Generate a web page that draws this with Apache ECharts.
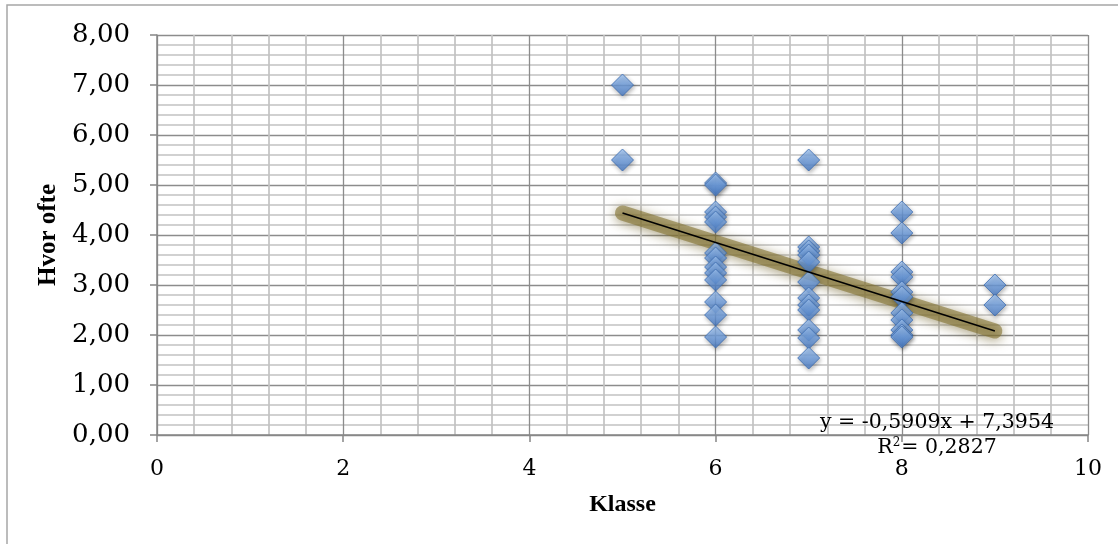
<!DOCTYPE html>
<html>
<head>
<meta charset="utf-8">
<script src="https://cdn.jsdelivr.net/npm/echarts@6/dist/echarts.min.js"></script>
<style>
html,body{margin:0;padding:0;background:#fff;}
#chart{width:1118px;height:544px;}
</style>
</head>
<body>
<div id="chart"></div>
<script>
// Data
const klasse5 = [7.00, 5.50];
const klasse6 = [5.04, 5.00, 4.46, 4.36, 4.26, 3.64, 3.54, 3.36, 3.24, 3.10, 2.66, 2.40, 1.96];
const klasse7 = [5.50, 3.76, 3.68, 3.60, 3.46, 3.06, 2.74, 2.60, 2.50, 2.10, 1.94, 1.54];
const klasse8 = [4.46, 4.04, 3.26, 3.16, 2.86, 2.76, 2.44, 2.30, 2.10, 2.00, 1.96];
const klasse9 = [3.00, 2.60];
const trendX = [5, 9];
const trendY = [4.44, 2.08];
const xTicks = [0, 2, 4, 6, 8, 10];
const yTicks = [0, 1, 2, 3, 4, 5, 6, 7, 8];
const equationText = 'y = -0,5909x + 7,3954';
const r2Value = '0,2827';
const xTitle = 'Klasse';
const yTitle = 'Hvor ofte';

const groups = [[5, klasse5], [6, klasse6], [7, klasse7], [8, klasse8], [9, klasse9]];
const points = [];
groups.forEach(([k, vals]) => vals.forEach(v => points.push([k, v])));
const trendData = trendX.map((x, i) => [x, trendY[i]]);

const chart = echarts.init(document.getElementById('chart'));
const serifNum = '"DejaVu Serif", serif';
const serifTitle = '"Liberation Serif", "DejaVu Serif", serif';

chart.setOption({
  animation: false,
  backgroundColor: '#ffffff',
  grid: { left: 157, right: 30, top: 35, bottom: 109, containLabel: false },
  xAxis: {
    type: 'value',
    min: xTicks[0], max: xTicks[xTicks.length - 1], interval: 2,
    name: xTitle, nameLocation: 'middle', nameGap: 58,
    nameTextStyle: { fontFamily: serifTitle, fontWeight: 'bold', fontSize: 24, color: '#000' },
    axisLine: { show: true, onZero: false, lineStyle: { color: '#868686', width: 1.5 } },
    axisTick: { show: true, length: 7, lineStyle: { color: '#868686', width: 1.5 } },
    axisLabel: { margin: 23, fontFamily: serifNum, fontSize: 22, color: '#000' },
    splitLine: { show: true, lineStyle: { color: '#8c8c8c', width: 1.3 } },
    minorTick: { show: false, splitNumber: 5 },
    minorSplitLine: { show: true, lineStyle: { color: '#c2c2c2', width: 1.7 } }
  },
  yAxis: {
    type: 'value',
    min: yTicks[0], max: yTicks[yTicks.length - 1], interval: 1,
    name: yTitle, nameLocation: 'middle', nameGap: 95, nameRotate: 90,
    nameTextStyle: { fontFamily: serifTitle, fontWeight: 'bold', fontSize: 25, color: '#000' },
    axisLine: { show: true, lineStyle: { color: '#868686', width: 1.5 } },
    axisTick: { show: true, length: 7, lineStyle: { color: '#868686', width: 1.5 } },
    axisLabel: { margin: 27, fontFamily: serifNum, fontSize: 26, color: '#000',
      formatter: v => v.toFixed(2).replace('.', ',') },
    splitLine: { show: true, lineStyle: { color: '#8c8c8c', width: 1.3 } },
    minorTick: { show: false, splitNumber: 5 },
    minorSplitLine: { show: true, lineStyle: { color: '#c2c2c2', width: 1.7 } }
  },
  graphic: [
    { type: 'rect', shape: { x: 7, y: 5, width: 1300, height: 700 },
      style: { fill: 'none', stroke: '#a6a6a6', lineWidth: 1.5 }, silent: true, z: 100 },
    { type: 'text', x: 937, y: 412, z: 100,
      style: { text: equationText, font: '20.5px "DejaVu Serif", serif', fill: '#000', textAlign: 'center' } },
    { type: 'text', x: 937, y: 437, z: 100,
      style: { text: '{r|R}{s|2}{r|= ' + r2Value + '}', fill: '#000', textAlign: 'center',
        rich: { r: { fontFamily: serifNum, fontSize: 20.5, fill: '#000' },
                s: { fontFamily: serifNum, fontSize: 12, fill: '#000', verticalAlign: 'top', padding: [0, 1, 10, 0] } } } }
  ],
  series: [
    {
      type: 'scatter',
      data: points,
      symbol: 'diamond',
      symbolSize: 22,
      z: 3,
      itemStyle: {
        color: new echarts.graphic.LinearGradient(0, 0, 0, 1, [
          { offset: 0, color: '#a4c8f5' },
          { offset: 0.5, color: '#6f9fe0' },
          { offset: 1, color: '#4478c4' }
        ]),
        borderColor: '#3b6cb0',
        borderWidth: 1,
        shadowBlur: 4,
        shadowColor: 'rgba(0,0,0,0.35)',
        shadowOffsetX: 1,
        shadowOffsetY: 2
      }
    },
    {
      type: 'line',
      data: trendData,
      symbol: 'none',
      z: 2,
      lineStyle: { color: 'rgba(132,117,52,0.62)', width: 15, cap: 'round',
        shadowBlur: 12, shadowColor: 'rgba(105,90,30,0.9)', shadowOffsetY: 2 }
    },
    {
      type: 'line',
      data: trendData,
      symbol: 'none',
      z: 4,
      lineStyle: { color: '#000', width: 1.6 }
    }
  ]
});
</script>
</body>
</html>
